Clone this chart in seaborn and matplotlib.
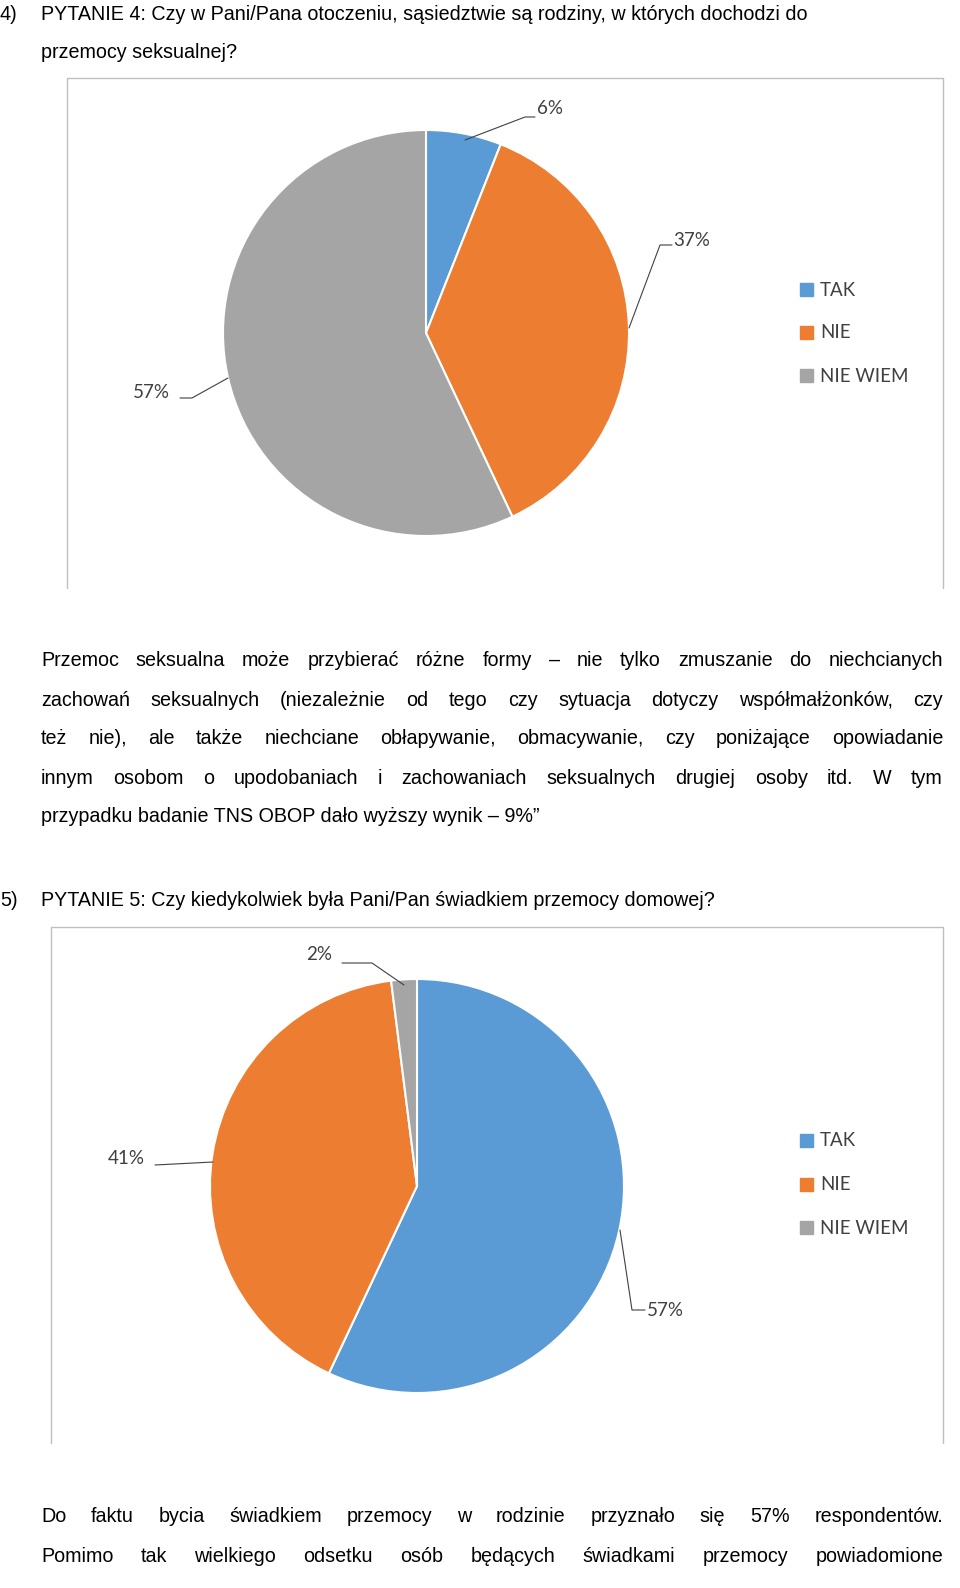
import matplotlib
matplotlib.use("Agg")
import matplotlib.pyplot as plt
import seaborn as sns

categories = ["TAK", "NIE", "NIE WIEM"]
q4_values = [6, 37, 57]
q5_values = [57, 41, 2]
colors = ["#5B9BD5", "#ED7D31", "#A5A5A5"]

sns.set_theme(style="white")
fig = plt.figure(figsize=(9.6, 15.88), dpi=100)
ax = fig.add_axes([0, 0, 1, 1])
ax.set_xlim(0, 960); ax.set_ylim(1588, 0); ax.set_aspect("equal"); ax.axis("off")

BODY = dict(family="Liberation Sans", fontsize=14.2, color="black", va="center")
LBL = dict(family="Lato", fontsize=13.5, color="#404040", va="center")
renderer = fig.canvas.get_renderer()

def line(x, y, s):
    ax.text(x, y, s, **BODY)

def justify(y, s, x0=41, x1=943):
    words = s.split()
    ts = [ax.text(0, y, w, **BODY) for w in words]
    inv = ax.transData.inverted()
    widths = []
    for t in ts:
        bb = t.get_window_extent(renderer)
        p0 = inv.transform((bb.x0, bb.y0)); p1 = inv.transform((bb.x1, bb.y0))
        widths.append(p1[0] - p0[0])
    gap = (x1 - x0 - sum(widths)) / max(len(words) - 1, 1)
    x = x0
    for t, w in zip(ts, widths):
        t.set_x(x); x += w + gap

line(0, 14, "4)"); line(41, 14, "PYTANIE 4: Czy w Pani/Pana otoczeniu, sąsiedztwie są rodziny, w których dochodzi do")
line(41, 52, "przemocy seksualnej?")

def pie(vals, cx, cy, r):
    # y-axis inverted: counterclock=True renders clockwise on screen
    ax.pie(vals, colors=colors, startangle=-90, counterclock=True, center=(cx, cy), radius=r,
           wedgeprops=dict(edgecolor="white", linewidth=1.5))
    ax.set_xlim(0, 960); ax.set_ylim(1588, 0)

def legend(x, ys):
    for c, n, y in zip(colors, categories, ys):
        ax.add_patch(plt.Rectangle((800, y - 7), 13, 13, color=c))
        ax.text(820, y, n, **LBL)

# chart 1
ax.plot([67, 67, 943, 943], [588, 78, 78, 588], color="#BFBFBF", lw=1)
pie(q4_values, 426, 333, 203)
ax.plot([465, 525, 535], [140, 117, 117], color="#404040", lw=0.8)
ax.text(537, 108, "6%", **LBL)
ax.plot([629, 660, 672], [328, 245, 245], color="#404040", lw=0.8)
ax.text(673, 240, "37%", **LBL)
ax.plot([228, 192, 180], [378, 398, 398], color="#404040", lw=0.8)
ax.text(133, 393, "57%", **LBL)
legend(800, [290, 333, 376])

justify(660, "Przemoc seksualna może przybierać różne formy – nie tylko zmuszanie do niechcianych")
justify(700, "zachowań seksualnych (niezależnie od tego czy sytuacja dotyczy współmałżonków, czy")
justify(739, "też nie), ale także niechciane obłapywanie, obmacywanie, czy poniżające opowiadanie")
justify(778, "innym osobom o upodobaniach i zachowaniach seksualnych drugiej osoby itd. W tym")
line(41, 817, "przypadku badanie TNS OBOP dało wyższy wynik – 9%”")

line(0, 900, "5)"); line(41, 900, "PYTANIE 5: Czy kiedykolwiek była Pani/Pan świadkiem przemocy domowej?")

# chart 2
ax.plot([51, 51, 943, 943], [1443, 927, 927, 1443], color="#BFBFBF", lw=1)
pie(q5_values, 417, 1186, 207)
ax.plot([342, 372, 404], [963, 963, 985], color="#404040", lw=0.8)
ax.text(306, 955, "2%", **LBL)
ax.plot([155, 213], [1165, 1162], color="#404040", lw=0.8)
ax.text(108, 1158, "41%", **LBL)
ax.plot([620, 632, 645], [1230, 1310, 1310], color="#404040", lw=0.8)
ax.text(647, 1310, "57%", **LBL)
legend(800, [1141, 1185, 1228])

justify(1516, "Do faktu bycia świadkiem przemocy w rodzinie przyznało się 57% respondentów.")
justify(1556, "Pomimo tak wielkiego odsetku osób będących świadkami przemocy powiadomione")

fig.savefig("out.png", dpi=100)
